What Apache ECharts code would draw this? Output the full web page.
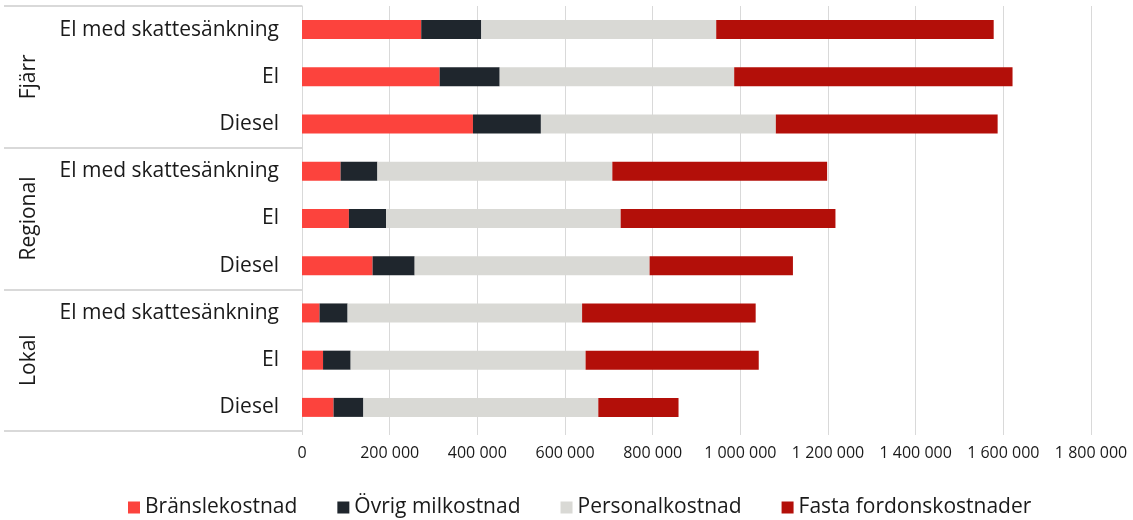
<!DOCTYPE html>
<html>
<head>
<meta charset="utf-8">
<script src="https://cdn.jsdelivr.net/npm/echarts@6/dist/echarts.min.js"></script>
<style>
  html, body { margin: 0; padding: 0; background: #ffffff; }
  #chart { width: 1133px; height: 520px; }
</style>
</head>
<body>
<div id="chart"></div>
<script>
// Distance classes (groups) and fuel variants, top to bottom
const groups = ['Fjärr', 'Regional', 'Lokal'];
const variants = ['El med skattesänkning', 'El', 'Diesel'];
const categories = [
  'Fjärr|El med skattesänkning', 'Fjärr|El', 'Fjärr|Diesel',
  'Regional|El med skattesänkning', 'Regional|El', 'Regional|Diesel',
  'Lokal|El med skattesänkning', 'Lokal|El', 'Lokal|Diesel'
];

// Annual cost per vehicle (SEK), one value per category row
const branslekostnad   = [272000, 314000, 390000,  88000, 107000, 161000,  40000,  48000,  72000];
const ovrigMilkostnad  = [137000, 137000, 155000,  84000,  85000,  96000,  64000,  63000,  68000];
const personalkostnad  = [536000, 535000, 536000, 536000, 535000, 536000, 535000, 536000, 536000];
const fastaFordon      = [633000, 635000, 506000, 490000, 490000, 327000, 396000, 395000, 183000];

const xTicks = { min: 0, max: 1800000, interval: 200000 };

const seriesNames = ['Bränslekostnad', 'Övrig milkostnad', 'Personalkostnad', 'Fasta fordonskostnader'];
const seriesColors = ['#fc433d', '#1f262d', '#d9d9d5', '#b30f09'];
const seriesData = [branslekostnad, ovrigMilkostnad, personalkostnad, fastaFordon];

const FONT = "'Open Sans', 'Noto Sans', sans-serif";
const GRID_COLOR = '#d9d9d9';

const fmt = v => String(v).replace(/\B(?=(\d{3})+(?!\d))/g, ' ');

const chart = echarts.init(document.getElementById('chart'), null, { renderer: 'canvas' });

chart.setOption({
  backgroundColor: '#ffffff',
  animation: false,
  grid: { left: 302, right: 42, top: 6, bottom: 89, containLabel: false },
  legend: {
    bottom: -3,
    left: 123,
    icon: 'rect',
    itemWidth: 12,
    itemHeight: 12,
    itemGap: 40,
    textStyle: { fontFamily: FONT, fontSize: 21, color: '#1a1a1a' },
    data: seriesNames
  },
  xAxis: {
    type: 'value',
    min: xTicks.min,
    max: xTicks.max,
    interval: xTicks.interval,
    axisLine: { show: false },
    axisTick: { show: true, length: 4, lineStyle: { color: GRID_COLOR } },
    splitLine: { show: true, lineStyle: { color: GRID_COLOR, width: 1 } },
    axisLabel: {
      formatter: fmt,
      fontFamily: FONT,
      fontSize: 16,
      color: '#1a1a1a',
      margin: 14
    }
  },
  yAxis: [
    {
      type: 'category',
      inverse: true,
      data: categories,
      axisLine: { show: true, lineStyle: { color: GRID_COLOR } },
      axisTick: { show: false },
      axisLabel: {
        formatter: v => v.split('|')[1],
        fontFamily: FONT,
        fontSize: 21,
        color: '#1a1a1a',
        margin: 23
      }
    },
    {
      type: 'category',
      inverse: true,
      position: 'left',
      data: groups,
      axisLine: { show: false },
      axisTick: {
        show: true,
        alignWithLabel: false,
        length: 298,
        lineStyle: { color: GRID_COLOR, width: 2 }
      },
      axisLabel: {
        rotate: 90,
        fontFamily: FONT,
        fontSize: 21,
        color: '#1a1a1a',
        margin: 262
      }
    }
  ],
  series: seriesNames.map((name, i) => ({
    name,
    type: 'bar',
    stack: 'total',
    yAxisIndex: 0,
    barWidth: 19,
    itemStyle: { color: seriesColors[i] },
    data: seriesData[i]
  }))
});
</script>
</body>
</html>
